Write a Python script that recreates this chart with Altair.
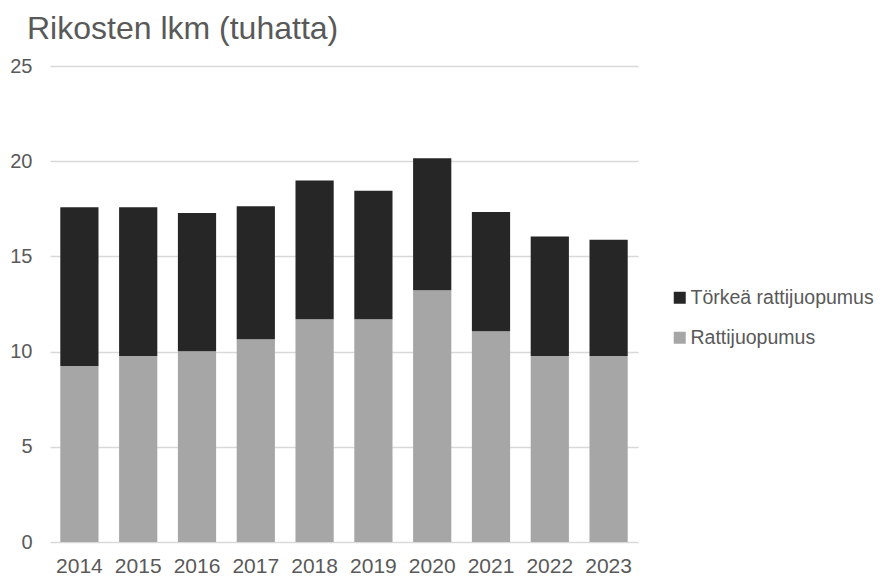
import altair as alt
import pandas as pd

years = ["2014", "2015", "2016", "2017", "2018", "2019", "2020", "2021", "2022", "2023"]
rattijuopumus = [9.24, 9.77, 10.02, 10.65, 11.70, 11.70, 13.22, 11.07, 9.77, 9.77]
torkea = [8.34, 7.81, 7.26, 6.98, 7.28, 6.75, 6.93, 6.26, 6.27, 6.11]
series = ["Törkeä rattijuopumus", "Rattijuopumus"]
colors = ["#262626", "#a6a6a6"]

rows = []
for y, r, t in zip(years, rattijuopumus, torkea):
    rows.append({"year": y, "series": series[1], "value": r, "ord": 0})
    rows.append({"year": y, "series": series[0], "value": t, "ord": 1})
df = pd.DataFrame(rows)

font = "Liberation Sans"
txt = "#595959"

chart = alt.Chart(df).mark_bar().encode(
    x=alt.X("year:N", sort=years, title=None,
            scale=alt.Scale(paddingInner=0.35, paddingOuter=0.175),
            axis=alt.Axis(labelAngle=0, labelFontSize=21, labelColor=txt, labelFont=font,
                          ticks=False, domain=False, labelPadding=13, grid=False)),
    y=alt.Y("value:Q", stack="zero", title=None,
            scale=alt.Scale(domain=[0, 25], nice=False),
            axis=alt.Axis(values=[0, 5, 10, 15, 20, 25], labelFontSize=20, labelColor=txt,
                          labelFont=font, ticks=False, domain=False, labelPadding=18,
                          gridColor="#d9d9d9", gridWidth=1.3)),
    color=alt.Color("series:N", scale=alt.Scale(domain=series, range=colors),
                    legend=alt.Legend(title=None, orient="none", legendX=620, legendY=222,
                                      labelFontSize=19.5, labelColor=txt, labelFont=font,
                                      labelLimit=300,
                                      symbolType="square", symbolSize=144, symbolStrokeWidth=0,
                                      rowPadding=19, labelOffset=1)),
    order=alt.Order("ord:Q"),
).properties(
    width=588, height=476,
    title=alt.TitleParams("Rikosten lkm (tuhatta)", anchor="start", frame="group",
                          fontSize=32, font=font, color=txt, fontWeight="normal",
                          dx=-23, offset=10),
    padding={"left": 42, "top": 58, "right": 242, "bottom": 40},
    autosize=alt.AutoSizeParams(type="none"),
).configure_view(stroke=None)

chart.save("out.html", embed_options={"renderer": "svg", "actions": False})
